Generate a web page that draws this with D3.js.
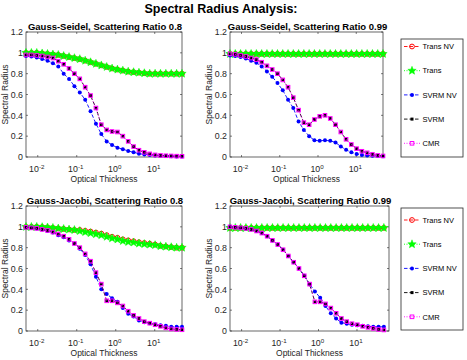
<!DOCTYPE html>
<html>
<head>
<meta charset="utf-8">
<script src="https://cdn.jsdelivr.net/npm/d3@7"></script>
<style>
body{margin:0;background:#fff;}
svg{display:block;font-family:"Liberation Sans",Arial,sans-serif;}
</style>
</head>
<body>
<svg id="chart" width="467" height="360"></svg>
<script>
// ----------------------
// DATA
// ----------------------
const thickness = [0.005,0.00687,0.00944,0.01297,0.01782,0.02448,0.03363,0.0462,0.06347,0.0872,
  0.1198,0.1646,0.2261,0.3106,0.4267,0.5862,0.8053,1.106,1.52,2.088,
  2.868,3.94,5.413,7.437,10.22,14.04,19.28,26.49,36.4,50];

const seriesNames = ["Trans NV","Trans","SVRM NV","SVRM","CMR"];
const panelTitles = ["Gauss-Seidel, Scattering Ratio 0.8","Gauss-Seidel, Scattering Ratio 0.99",
  "Gauss-Jacobi, Scattering Ratio 0.8","Gauss-Jacobi, Scattering Ratio 0.99"];
const yTicks = [0,0.2,0.4,0.6,0.8,1,1.2];
const xTicks = [0.01,0.1,1,10];
const xTickExp = ["-2","-1","0","1"];

// Gauss-Seidel, c = 0.8
const gs08Trans = [1,1,1,0.995,0.99,0.985,0.98,0.97,0.96,0.95,0.94,0.925,0.91,0.895,0.88,0.865,0.85,0.84,0.83,0.82,0.815,0.81,0.805,0.8,0.8,0.8,0.8,0.8,0.8,0.8];
const gs08TransNV = gs08Trans.slice();
const gs08SvrmNV = [0.97,0.965,0.955,0.94,0.925,0.9,0.87,0.8,0.75,0.68,0.62,0.55,0.44,0.32,0.22,0.15,0.115,0.09,0.075,0.058,0.045,0.032,0.025,0.02,0.015,0.012,0.01,0.008,0.006,0.005];
const gs08Svrm = [0.98,0.98,0.975,0.97,0.96,0.95,0.92,0.89,0.85,0.8,0.75,0.67,0.59,0.47,0.31,0.26,0.245,0.24,0.2,0.15,0.1,0.065,0.045,0.03,0.02,0.015,0.012,0.01,0.008,0.007];
const gs08Cmr = gs08Svrm.slice();

// Gauss-Seidel, c = 0.99
const gs99Trans = [0.99,0.99,0.99,0.99,0.99,0.99,0.99,0.99,0.99,0.99,0.99,0.99,0.99,0.99,0.99,0.99,0.99,0.99,0.99,0.99,0.99,0.99,0.99,0.99,0.99,0.99,0.99,0.99,0.99,0.99];
const gs99TransNV = gs99Trans.slice();
const gs99SvrmNV = [0.975,0.97,0.96,0.945,0.925,0.905,0.87,0.82,0.77,0.71,0.64,0.55,0.47,0.34,0.26,0.2,0.16,0.155,0.16,0.155,0.14,0.1,0.07,0.045,0.03,0.02,0.015,0.012,0.01,0.008];
const gs99Svrm = [0.99,0.985,0.975,0.965,0.95,0.935,0.91,0.875,0.84,0.8,0.74,0.67,0.57,0.45,0.33,0.31,0.36,0.39,0.4,0.37,0.31,0.24,0.17,0.12,0.08,0.055,0.04,0.025,0.015,0.01];
const gs99Cmr = gs99Svrm.slice();

// Gauss-Jacobi, c = 0.8
const gj08Trans = [1,1,1,0.998,0.995,0.99,0.985,0.98,0.975,0.97,0.96,0.95,0.94,0.93,0.92,0.905,0.89,0.88,0.865,0.855,0.85,0.84,0.835,0.83,0.825,0.815,0.81,0.805,0.8,0.8];
const gj08TransNV = [1,1,1,0.998,0.995,0.99,0.985,0.98,0.975,0.97,0.97,0.962,0.955,0.945,0.935,0.92,0.905,0.895,0.88,0.87,0.862,0.852,0.845,0.838,0.83,0.818,0.812,0.806,0.8,0.8];
const gj08SvrmNV = [0.995,0.99,0.985,0.975,0.96,0.945,0.92,0.9,0.87,0.84,0.79,0.73,0.64,0.52,0.4,0.355,0.315,0.28,0.22,0.165,0.14,0.1,0.085,0.075,0.065,0.055,0.05,0.04,0.04,0.04];
const gj08Svrm = [0.995,0.99,0.985,0.975,0.965,0.95,0.93,0.91,0.88,0.84,0.8,0.74,0.67,0.56,0.45,0.29,0.29,0.27,0.24,0.19,0.15,0.12,0.09,0.075,0.06,0.045,0.03,0.02,0.015,0.012];
const gj08Cmr = gj08Svrm.slice();

// Gauss-Jacobi, c = 0.99
const gj99Trans = [0.99,0.99,0.99,0.99,0.99,0.99,0.99,0.99,0.99,0.99,0.99,0.99,0.99,0.99,0.99,0.99,0.99,0.99,0.99,0.99,0.99,0.99,0.99,0.99,0.99,0.99,0.99,0.99,0.99,0.99];
const gj99TransNV = gj99Trans.slice();
const gj99SvrmNV = [1,0.995,0.99,0.985,0.975,0.96,0.94,0.91,0.87,0.83,0.78,0.72,0.66,0.6,0.53,0.45,0.38,0.32,0.24,0.17,0.12,0.08,0.07,0.06,0.055,0.05,0.045,0.04,0.04,0.04];
const gj99Svrm = [1,0.995,0.99,0.985,0.975,0.96,0.94,0.91,0.87,0.83,0.78,0.72,0.66,0.6,0.53,0.45,0.28,0.28,0.26,0.22,0.17,0.12,0.09,0.07,0.06,0.045,0.035,0.025,0.015,0.01];
const gj99Cmr = gj99Svrm.slice();

// ----------------------
// LAYOUT + STYLES
// ----------------------
const panels = [
  {title:panelTitles[0], left:26, right:182, top:32, bottom:157, xMax:50,
    series:[gs08TransNV,gs08Trans,gs08SvrmNV,gs08Svrm,gs08Cmr]},
  {title:panelTitles[1], left:230, right:383, top:32, bottom:157, xMax:50,
    series:[gs99TransNV,gs99Trans,gs99SvrmNV,gs99Svrm,gs99Cmr]},
  {title:panelTitles[2], left:26, right:182, top:206, bottom:331, xMax:50,
    series:[gj08TransNV,gj08Trans,gj08SvrmNV,gj08Svrm,gj08Cmr]},
  {title:panelTitles[3], left:230, right:389, top:206, bottom:331, xMax:68,
    series:[gj99TransNV,gj99Trans,gj99SvrmNV,gj99Svrm,gj99Cmr]}
];
const legends = [{x:401, y:39, h:118, first:46.5}, {x:401, y:208, h:122, first:220}];

const styles = [
  {color:"#ff0000", dash:"3.5,2", marker:"circle"},
  {color:"#00ff00", dash:"1,1.5", marker:"star"},
  {color:"#0000ff", dash:"3.5,2", marker:"dot"},
  {color:"#000000", dash:"3.5,2", marker:"square"},
  {color:"#ff00ff", dash:"1,1.5", marker:"opensquare"}
];
const axisColor = "#262626";

const svg = d3.select("#chart");

svg.append("text").attr("x",221).attr("y",13).attr("text-anchor","middle")
  .attr("font-size",12.5).attr("font-weight","bold").attr("fill","#000")
  .text("Spectral Radius Analysis:");

function starPath(ro, ri){
  const pts = [];
  for(let k=0;k<10;k++){
    const r = k%2===0 ? ro : ri;
    const a = -Math.PI/2 + k*Math.PI/5;
    pts.push([r*Math.cos(a), r*Math.sin(a)]);
  }
  return "M" + pts.map(p=>p[0].toFixed(2)+","+p[1].toFixed(2)).join("L") + "Z";
}

function drawMarker(g, type, color, x, y){
  if(type==="circle"){
    g.append("circle").attr("cx",x).attr("cy",y).attr("r",2.4)
      .attr("fill","none").attr("stroke",color).attr("stroke-width",1);
  } else if(type==="star"){
    g.append("path").attr("d",starPath(4.4,1.9)).attr("transform",`translate(${x},${y})`)
      .attr("fill",color).attr("stroke",color).attr("stroke-width",0.5);
  } else if(type==="dot"){
    g.append("circle").attr("cx",x).attr("cy",y).attr("r",2).attr("fill",color);
  } else if(type==="square"){
    g.append("rect").attr("x",x-1.5).attr("y",y-1.5).attr("width",3).attr("height",3).attr("fill",color);
  } else {
    g.append("rect").attr("x",x-1.8).attr("y",y-1.8).attr("width",3.6).attr("height",3.6)
      .attr("fill","none").attr("stroke",color).attr("stroke-width",1);
  }
}

panels.forEach(p=>{
  const x = d3.scaleLog().domain([0.005,p.xMax]).range([p.left,p.right]);
  const y = d3.scaleLinear().domain([0,1.2]).range([p.bottom,p.top]);
  const g = svg.append("g");

  // box + ticks
  g.append("rect").attr("x",p.left).attr("y",p.top).attr("width",p.right-p.left)
    .attr("height",p.bottom-p.top).attr("fill","#fff").attr("stroke",axisColor).attr("stroke-width",0.7);

  yTicks.forEach(t=>{
    const yy = y(t);
    g.append("line").attr("x1",p.left).attr("x2",p.left+2).attr("y1",yy).attr("y2",yy).attr("stroke",axisColor).attr("stroke-width",0.6);
    g.append("line").attr("x1",p.right).attr("x2",p.right-2).attr("y1",yy).attr("y2",yy).attr("stroke",axisColor).attr("stroke-width",0.6);
    g.append("text").attr("x",p.left-3).attr("y",yy+3.2).attr("text-anchor","end")
      .attr("font-size",8.8).attr("fill",axisColor).text(d3.format("~g")(t));
  });
  xTicks.forEach((t,i)=>{
    const xx = x(t);
    g.append("line").attr("x1",xx).attr("x2",xx).attr("y1",p.bottom).attr("y2",p.bottom-2).attr("stroke",axisColor).attr("stroke-width",0.6);
    g.append("line").attr("x1",xx).attr("x2",xx).attr("y1",p.top).attr("y2",p.top+2).attr("stroke",axisColor).attr("stroke-width",0.6);
    const tx = g.append("text").attr("x",xx-1).attr("y",p.bottom+15).attr("text-anchor","middle")
      .attr("font-size",8.8).attr("fill",axisColor);
    tx.append("tspan").text("10");
    tx.append("tspan").attr("dy",-3.5).attr("font-size",6.2).text(xTickExp[i]);
  });

  g.append("text").attr("x",(p.left+p.right)/2).attr("y",p.bottom+24.5).attr("text-anchor","middle")
    .attr("font-size",8.5).attr("fill",axisColor).text("Optical Thickness");
  g.append("text").attr("transform",`translate(${p.left-18.5},${(p.top+p.bottom)/2}) rotate(-90)`)
    .attr("text-anchor","middle").attr("font-size",8.5).attr("fill",axisColor).text("Spectral Radius");
  g.append("text").attr("x",(p.left+p.right)/2+1).attr("y",p.top-2.5).attr("text-anchor","middle")
    .attr("font-size",9.5).attr("font-weight","bold").attr("fill","#000").text(p.title);

  // series
  p.series.forEach((vals,si)=>{
    const st = styles[si];
    const sg = g.append("g");
    const line = d3.line().x((d,i)=>x(thickness[i])).y(d=>y(d));
    sg.append("path").attr("d",line(vals)).attr("fill","none").attr("stroke",st.color)
      .attr("stroke-width",0.9).attr("stroke-dasharray",st.dash);
    vals.forEach((v,i)=>drawMarker(sg, st.marker, st.color, x(thickness[i]), y(v)));
  });
});

// legends
legends.forEach(L=>{
  const g = svg.append("g");
  g.append("rect").attr("x",L.x).attr("y",L.y).attr("width",62).attr("height",L.h)
    .attr("fill","#fff").attr("stroke",axisColor).attr("stroke-width",0.8);
  seriesNames.forEach((name,i)=>{
    const yy = L.first + i*24.2;
    const st = styles[i];
    g.append("line").attr("x1",L.x+3).attr("x2",L.x+19).attr("y1",yy).attr("y2",yy)
      .attr("stroke",st.color).attr("stroke-width",0.9).attr("stroke-dasharray",st.dash);
    drawMarker(g, st.marker, st.color, L.x+11, yy);
    g.append("text").attr("x",L.x+21.5).attr("y",yy+2.7).attr("font-size",7.5)
      .attr("fill","#000").text(name);
  });
});
</script>
</body>
</html>
